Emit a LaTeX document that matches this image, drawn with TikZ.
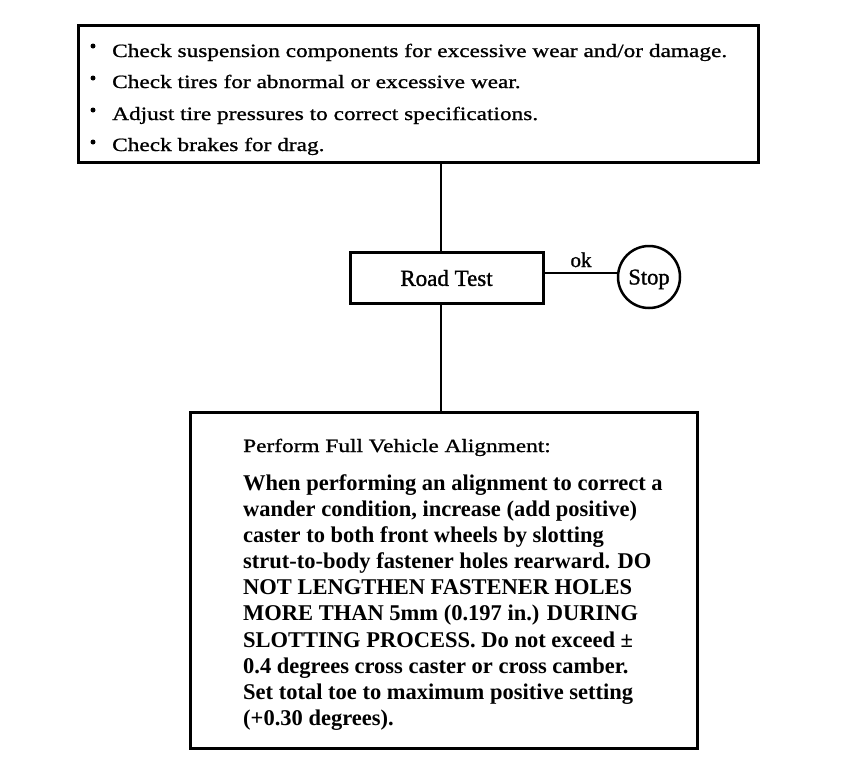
\documentclass[tikz,border=0pt]{standalone}
\usepackage{fontspec}
\setmainfont{Liberation Serif}
\newfontfamily\widefont[FakeStretch=1.24,FakeBold=1]{Liberation Serif}
\newfontfamily\medfont[FakeBold=1.2]{Liberation Serif}
\begin{document}
\begin{tikzpicture}[x=1pt,y=-1pt,
  boxst/.style={draw, line width=3pt, inner sep=0pt},
  conn/.style={line width=2pt},
  toptxt/.style={anchor=base west, inner sep=0pt, font=\widefont\fontsize{18.8}{22}\selectfont},
  bul/.style={circle, fill, inner sep=0pt, minimum size=5pt},
  para/.style={anchor=base west, inner sep=0pt, font=\bfseries\fontsize{22.5}{26}\selectfont}]
\useasboundingbox[fill=white] (0,0) rectangle (864,780);
% top box
\node[boxst, minimum width=680pt, minimum height=137pt, anchor=north west] (top) at (77,24) {};
\node[bul] (d1) at (93,46) {};
\node[bul] (d2) at (93,78) {};
\node[bul] (d3) at (93,110) {};
\node[bul] (d4) at (93,142) {};
\node[toptxt] (t1) at (112,57) {Check suspension components for excessive wear and/or damage.};
\node[toptxt] (t2) at (112,88) {Check tires for abnormal or excessive wear.};
\node[toptxt] (t3) at (112,120) {Adjust tire pressures to correct specifications.};
\node[toptxt] (t4) at (112,151) {Check brakes for drag.};
% road test
\node[boxst, minimum width=193pt, minimum height=51pt, font=\medfont\fontsize{23}{23}\selectfont] (road) at (446.5,278) {Road Test};
\node[draw, circle, line width=2.5pt, minimum size=62pt, inner sep=0pt, text depth=0pt, font=\medfont\fontsize{22.5}{22.5}\selectfont] (stop) at (649,277) {Stop};
\node[anchor=base, inner sep=0pt, font=\medfont\fontsize{21}{21}\selectfont] (ok) at (581,267) {ok};
% bottom box
\node[boxst, minimum width=507pt, minimum height=336pt, anchor=north west] (bot) at (189,411) {};
\node[toptxt] (h) at (243,452) {Perform Full Vehicle Alignment:};
\node[para] (p1) at (243,490) {When performing an alignment to correct a};
\node[para] (p2) at (243,516) {wander condition, increase (add positive)};
\node[para] (p3) at (243,542) {caster to both front wheels by slotting};
\node[para] (p4) at (243,568) {strut-to-body fastener holes rearward. DO};
\node[para] (p5) at (243,594) {NOT LENGTHEN FASTENER HOLES};
\node[para] (p6) at (243,620) {MORE THAN 5mm (0.197 in.) DURING};
\node[para] (p7) at (243,647) {SLOTTING PROCESS. Do not exceed ±};
\node[para] (p8) at (243,673) {0.4 degrees cross caster or cross camber.};
\node[para] (p9) at (243,699) {Set total toe to maximum positive setting};
\node[para] (p10) at (243,725) {(+0.30 degrees).};
% connectors
\coordinate (cx) at (441,0);
\coordinate (hy) at (0,273);
\draw[conn] (top.south -| cx) -- (road.north -| cx);
\draw[conn] (road.south -| cx) -- (bot.north -| cx);
\draw[conn] (road.east |- hy) -- (stop.west |- hy);
\end{tikzpicture}
\end{document}
